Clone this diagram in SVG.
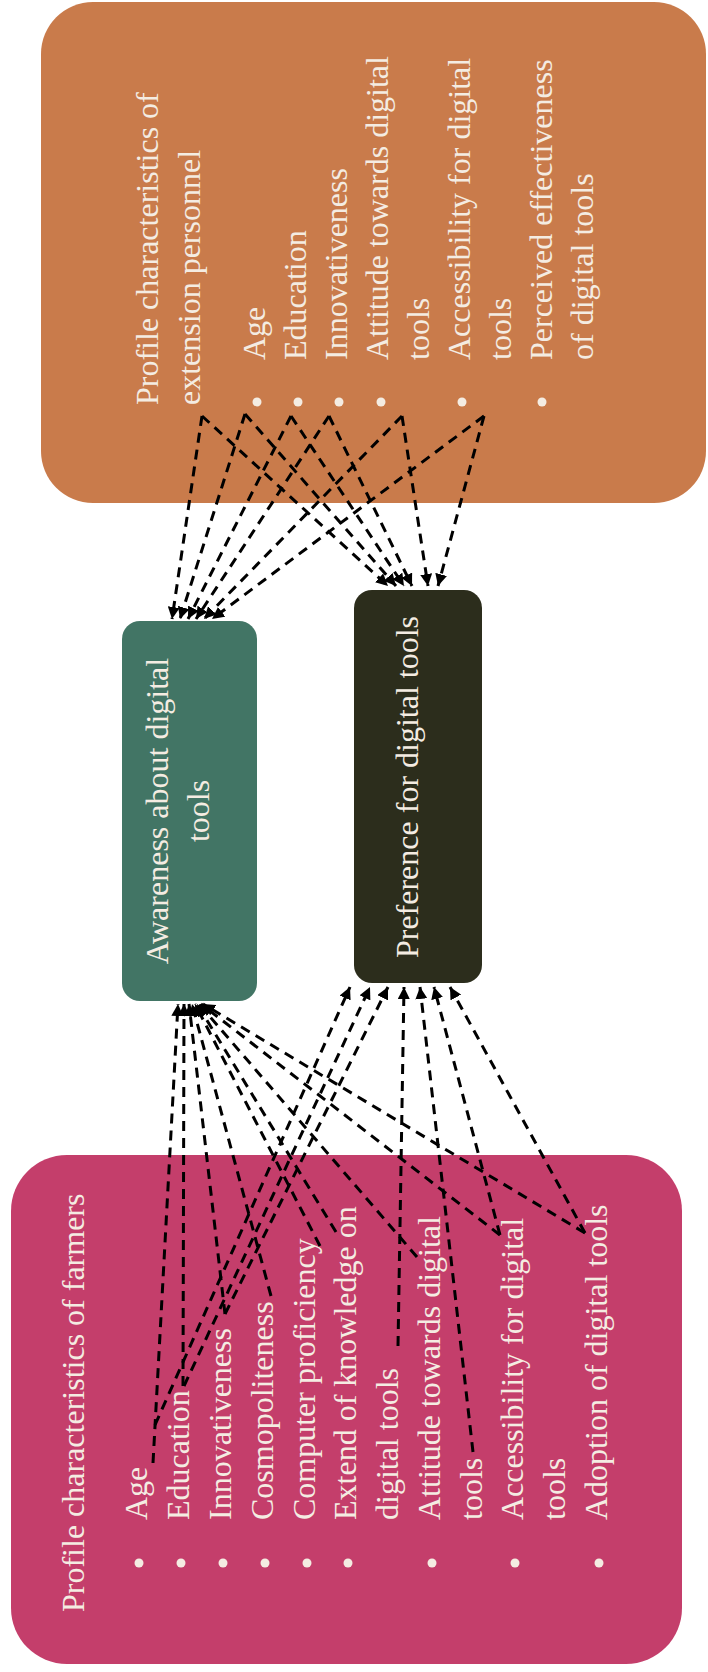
<svg xmlns="http://www.w3.org/2000/svg" width="708" height="1672" viewBox="0 0 708 1672">
<style>
.t{font-family:"Liberation Serif","Times New Roman",serif;font-size:32px;fill:#F4ECE2}
.b{fill:#F4ECE2}
.c{fill:none;stroke:#000;stroke-width:3;stroke-dasharray:10 7;marker-end:url(#ah)}
</style>
<defs>
<marker id="ah" viewBox="0 0 10 10" refX="10" refY="5" markerWidth="4" markerHeight="4" orient="auto" markerUnits="strokeWidth">
<path d="M0,0 L10,5 L0,10 z" fill="#000"/>
</marker>
</defs>
<rect width="708" height="1672" fill="#fff"/>

<g id="extension">
<rect x="41" y="2" width="665" height="501" rx="52" fill="#C97B4B"/>
<text class="t" transform="translate(158,405) rotate(-90)">Profile characteristics of</text>
<text class="t" transform="translate(200,405) rotate(-90)">extension personnel</text>
<text class="t" transform="translate(265,360) rotate(-90)">Age</text>
<text class="t" transform="translate(306,360) rotate(-90)">Education</text>
<text class="t" transform="translate(347,360) rotate(-90)">Innovativeness</text>
<text class="t" transform="translate(388,360) rotate(-90)">Attitude towards digital</text>
<text class="t" transform="translate(429,360) rotate(-90)">tools</text>
<text class="t" transform="translate(470,360) rotate(-90)">Accessibility for digital</text>
<text class="t" transform="translate(511,360) rotate(-90)">tools</text>
<text class="t" transform="translate(552,360) rotate(-90)">Perceived effectiveness</text>
<text class="t" transform="translate(593,360) rotate(-90)">of digital tools</text>
<circle class="b" cx="257" cy="402" r="4.5"/>
<circle class="b" cx="298" cy="402" r="4.5"/>
<circle class="b" cx="339" cy="402" r="4.5"/>
<circle class="b" cx="381" cy="402" r="4.5"/>
<circle class="b" cx="462" cy="402" r="4.5"/>
<circle class="b" cx="542" cy="402" r="4.5"/>
</g>

<g id="awareness">
<rect x="122" y="621" width="135" height="380" rx="18" fill="#427565"/>
<text class="t" text-anchor="middle" transform="translate(168,811) rotate(-90)">Awareness about digital</text>
<text class="t" text-anchor="middle" transform="translate(209,811) rotate(-90)">tools</text>
</g>

<g id="preference">
<rect x="354" y="590" width="128" height="393" rx="18" fill="#2C2D1C"/>
<text class="t" text-anchor="middle" transform="translate(418,787) rotate(-90)">Preference for digital tools</text>
</g>

<g id="farmers">
<rect x="11" y="1155" width="671" height="509" rx="56" fill="#C43E6B"/>
<text class="t" transform="translate(84,1612) rotate(-90)">Profile characteristics of farmers</text>
<text class="t" transform="translate(147,1520) rotate(-90)">Age</text>
<text class="t" transform="translate(189,1520) rotate(-90)">Education</text>
<text class="t" transform="translate(231,1520) rotate(-90)">Innovativeness</text>
<text class="t" transform="translate(273,1520) rotate(-90)">Cosmopoliteness</text>
<text class="t" transform="translate(315,1520) rotate(-90)">Computer proficiency</text>
<text class="t" transform="translate(356,1520) rotate(-90)">Extend of knowledge on</text>
<text class="t" transform="translate(398,1520) rotate(-90)">digital tools</text>
<text class="t" transform="translate(440,1520) rotate(-90)">Attitude towards digital</text>
<text class="t" transform="translate(482,1520) rotate(-90)">tools</text>
<text class="t" transform="translate(523,1520) rotate(-90)">Accessibility for digital</text>
<text class="t" transform="translate(565,1520) rotate(-90)">tools</text>
<text class="t" transform="translate(607,1520) rotate(-90)">Adoption of digital tools</text>
<circle class="b" cx="139" cy="1563" r="4.5"/>
<circle class="b" cx="181" cy="1563" r="4.5"/>
<circle class="b" cx="223" cy="1563" r="4.5"/>
<circle class="b" cx="265" cy="1563" r="4.5"/>
<circle class="b" cx="307" cy="1563" r="4.5"/>
<circle class="b" cx="348" cy="1563" r="4.5"/>
<circle class="b" cx="432" cy="1563" r="4.5"/>
<circle class="b" cx="515" cy="1563" r="4.5"/>
<circle class="b" cx="599" cy="1563" r="4.5"/>
</g>

<g id="connectors">
<path class="c" d="M202,416 L172,619"/>
<path class="c" d="M202,416 L388,586"/>
<path class="c" d="M245,414 L180,619"/>
<path class="c" d="M245,414 L396,586"/>
<path class="c" d="M291,416 L188,619"/>
<path class="c" d="M291,416 L404,586"/>
<path class="c" d="M329,416 L196,619"/>
<path class="c" d="M329,416 L412,586"/>
<path class="c" d="M402,416 L204,619"/>
<path class="c" d="M402,416 L428,586"/>
<path class="c" d="M484,416 L212,619"/>
<path class="c" d="M484,416 L438,586"/>

<path class="c" d="M153,1463 L178,1004"/>
<path class="c" d="M183,1386 L184,1004"/>
<path class="c" d="M225,1314 L189,1004"/>
<path class="c" d="M271,1296 L192,1004"/>
<path class="c" d="M320,1246 L195,1004"/>
<path class="c" d="M336,1232 L197,1004"/>
<path class="c" d="M417,1257 L199,1004"/>
<path class="c" d="M500,1235 L201,1004"/>
<path class="c" d="M585,1233 L203,1004"/>

<path class="c" d="M155,1425 L350,987"/>
<path class="c" d="M184,1386 L370,987"/>
<path class="c" d="M225,1314 L388,987"/>
<path class="c" d="M398,1346 L404,987"/>
<path class="c" d="M473,1452 L420,987"/>
<path class="c" d="M500,1235 L434,987"/>
<path class="c" d="M585,1233 L450,987"/>
</g>
</svg>
